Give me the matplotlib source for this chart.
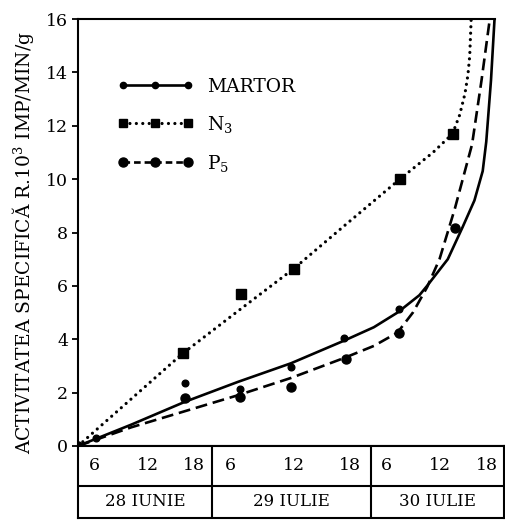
import numpy as np
import matplotlib
matplotlib.use('Agg')
import matplotlib.pyplot as plt
from matplotlib.lines import Line2D
from matplotlib import rcParams

########################################################################
# Setup plot environment
########################################################################
rcParams['font.family'] = 'serif'
rcParams['font.serif'] = ['DejaVu Serif']
rcParams['mathtext.fontset'] = 'dejavuserif'
rcParams['axes.linewidth'] = 1.5

########################################################################
# Data (hours from start of 28 IUNIE, activity in 10^3 imp/min/g)
########################################################################
# measured points
martor_h = [0, 3, 18, 27.3, 36, 45, 54.2]
martor_v = [0, 0.3, 2.35, 2.15, 2.95, 4.05, 5.15]
n3_h = [17.7, 27.6, 36.5, 54.4, 63.4]
n3_v = [3.5, 5.7, 6.65, 10.0, 11.7]
p5_h = [0, 18, 27.3, 36, 45.3, 54.3, 63.7]
p5_v = [0, 1.8, 1.85, 2.2, 3.25, 4.25, 8.15]

# fitted curves
martor_fit_h = [0, 9, 18, 27, 36, 45, 50, 54, 57.7, 59, 62.5, 65, 67, 68.4, 69.0, 69.8, 70.4]
martor_fit_v = [0, 0.8, 1.65, 2.4, 3.1, 3.95, 4.45, 5.0, 5.65, 6.0, 7.0, 8.2, 9.2, 10.3, 11.4, 13.7, 16]
n3_fit_h = [0, 17.6, 27, 36.5, 45, 54.4, 60, 63.3, 64.5, 65.4, 65.9, 66.2, 66.4, 66.45]
n3_fit_v = [0, 3.45, 5.05, 6.65, 8.25, 10.0, 11.0, 11.7, 12.4, 13.2, 13.9, 14.6, 15.7, 16]
p5_fit_h = [0, 9, 18, 27, 36, 45, 50, 54, 56.6, 59, 61.1, 63.7, 66.6, 68.2, 69.6]
p5_fit_v = [0, 0.7, 1.3, 1.9, 2.55, 3.3, 3.75, 4.25, 5.0, 5.95, 7.0, 8.9, 11.3, 13.7, 16]

days = ['28 IUNIE', '29 IULIE', '30 IULIE']
day_edges = [0, 22.6, 49.5, 72]
hour_labels = ['6', '12', '18']

########################################################################
# PLOT
########################################################################
fig = plt.figure(figsize=(5.05, 5.2), dpi=100)
ax = fig.add_axes([78/505, 74/520, 426/505, 427/520])

ax.plot(martor_fit_h, martor_fit_v, color='black', linestyle='-', linewidth=1.9)
ax.plot(n3_fit_h, n3_fit_v, color='black', linestyle=(0, (0.01, 2.0)),
        linewidth=2.3, dash_capstyle='round')
ax.plot(p5_fit_h, p5_fit_v, color='black', linestyle=(0, (4.5, 2.2)), linewidth=1.9)

ax.plot(martor_h, martor_v, 'o', color='black', markersize=4.8, linestyle='none')
ax.plot(n3_h, n3_v, 's', color='black', markersize=6.5, linestyle='none')
ax.plot(p5_h, p5_v, 'o', color='black', markersize=6.5, linestyle='none')

ax.set_xlim(0, 72)
ax.set_ylim(0, 16)
ax.set_xticks([])
ax.set_yticks(range(0, 17, 2))
ax.tick_params(axis='y', direction='out', length=4, width=1.3, labelsize=12.5, pad=3)
ax.spines['right'].set_visible(False)
ax.spines['top'].set_bounds(0, 70.4)

# legend
handles = [Line2D([], [], color='black', linestyle='-', linewidth=1.9, marker='o', markersize=4.5),
           Line2D([], [], color='black', linestyle=(0, (0.01, 2.0)), linewidth=2.3,
                  dash_capstyle='round', marker='s', markersize=6),
           Line2D([], [], color='black', linestyle=(0, (2.5, 1.5)), linewidth=1.9, marker='o', markersize=6.5)]
labels = ['MARTOR', 'N$_3$', 'P$_5$']
ax.legend(handles, labels, loc='upper left', bbox_to_anchor=(0.0915, 0.862), frameon=False,
          numpoints=3, handlelength=4.1, handletextpad=0.7, labelspacing=0.95,
          borderpad=0, borderaxespad=0, fontsize=13.5)

fig.text(23/505, 0.533, 'ACTIVITATEA SPECIFICĂ R.10$^3$ IMP/MIN/g', rotation=90,
         ha='center', va='center', fontsize=13.5)

# time table under the axis
tab = fig.add_axes([78/505, 2/520, 426/505, 72/520])
tab.set_xlim(0, 72)
tab.set_ylim(0, 2)
tab.set_xticks([])
tab.set_yticks([])
tab.axhline(0.89, color='black', linewidth=1.5)
for e in day_edges[1:-1]:
    tab.axvline(e, color='black', linewidth=1.5)
for i, d in enumerate(days):
    a, b = day_edges[i], day_edges[i + 1]
    for frac, lab in zip([0.12, 0.52, 0.87], hour_labels):
        tab.text(a + frac*(b - a), 1.445, lab, ha='center', va='center', fontsize=12.5)
    tab.text((a + b)/2, 0.445, d, ha='center', va='center', fontsize=12)

fig.savefig('out.png', dpi=100)
